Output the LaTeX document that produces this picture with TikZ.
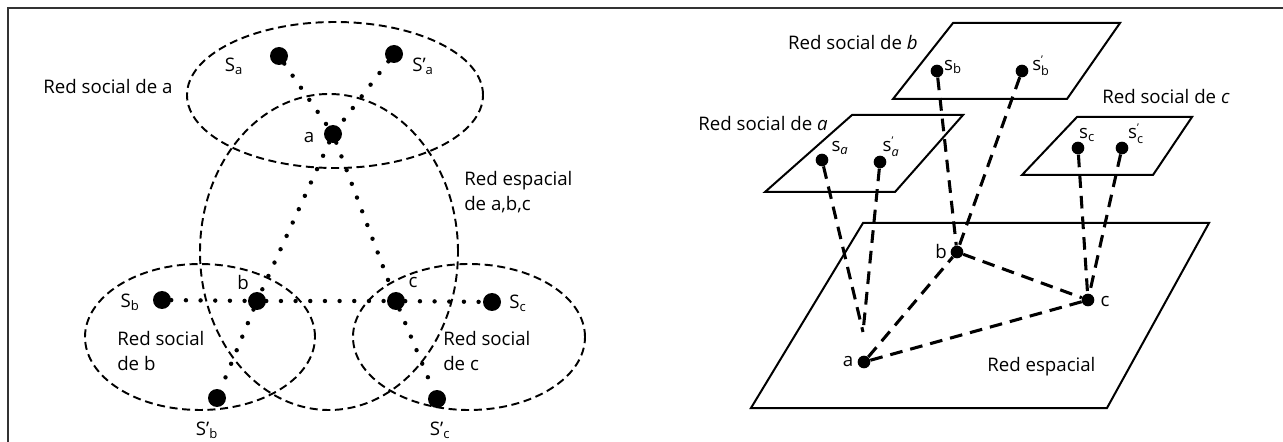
\documentclass[tikz,border=0pt]{standalone}
\usepackage{fontspec}
\setmainfont{Open Sans}
\newcommand\subpr[2]{#1$^{\hbox{\fontsize{8}{8}\selectfont ’}}_{\hbox{\fontsize{9.5}{9.5}\selectfont #2}}$}
\begin{document}
\begin{tikzpicture}[x=0.75pt,y=-0.75pt,
  bigdot/.style={circle,fill,inner sep=0pt,minimum size=13.5pt},
  smalldot/.style={circle,fill,inner sep=0pt,minimum size=9.5pt},
  dotline/.style={line width=3.3pt,line cap=round,dash pattern=on 0pt off 11pt},
  ringdash/.style={line width=1.45pt,dash pattern=on 6pt off 3.5pt},
  thickdash/.style={line width=2.3pt,dash pattern=on 9.5pt off 6pt},
  plane/.style={line width=1.5pt,line join=miter},
  lbl/.style={font=\fontsize{14}{18.5}\selectfont,inner sep=0pt}]
\useasboundingbox (0,0) rectangle (1283,442);
% frame
\draw[line width=1.3pt,black!80] (8,442) -- (8,8) -- (1283,8);

% ---------- left panel ----------
\draw[ringdash] (335,95) ellipse [x radius=111pt, y radius=54.75pt];
\draw[ringdash] (329,252) ellipse [x radius=96.75pt, y radius=118.5pt];
\draw[ringdash] (200,337) ellipse [x radius=86.25pt, y radius=54.75pt];
\draw[ringdash] (469,337) ellipse [x radius=87pt, y radius=54.75pt];

\node[bigdot] (LSa) at (279,56) {};
\node[bigdot] (LSpa) at (394,54) {};
\node[bigdot] (La) at (333,134) {};
\node[bigdot] (Lb) at (257,301) {};
\node[bigdot] (Lc) at (396,301) {};
\node[bigdot] (LSb) at (162,300) {};
\node[bigdot] (LSc) at (492,302) {};
\node[bigdot] (LSpb) at (217,398) {};
\node[bigdot] (LSpc) at (437,399) {};

\draw[dotline] (LSa) -- (La);
\draw[dotline] (LSpa) -- (La);
\draw[dotline] (La) -- (Lb);
\draw[dotline] (La) -- (Lc);
\draw[dotline] (LSb) -- (Lb);
\draw[dotline] (Lb) -- (Lc);
\draw[dotline] (Lc) -- (LSc);
\draw[dotline] (Lb) -- (LSpb);
\draw[dotline] (Lc) -- (LSpc);

\node[lbl] (tSa) at (234,66) {S\textsubscript{a}};
\node[lbl] (tSpa) at (423,66) {S’\textsubscript{a}};
\node[lbl] (ta) at (309,138) {a};
\node[lbl] (tb) at (243,283) {b};
\node[lbl] (tc) at (413,283) {c};
\node[lbl] (tSb) at (130,302) {S\textsubscript{b}};
\node[lbl] (tSc) at (518,303) {S\textsubscript{c}};
\node[lbl] (tSpb) at (207,430) {S’\textsubscript{b}};
\node[lbl] (tSpc) at (440,430) {S’\textsubscript{c}};
\node[lbl] (tRa) at (108,87) {Red social de a};
\node[lbl,align=left,anchor=west] (tRe) at (464,192) {Red espacial\\de a,b,c};
\node[lbl,align=left,anchor=west] (tRb) at (117,351) {Red social\\de b};
\node[lbl,align=left,anchor=west] (tRc) at (443,351) {Red social\\de c};

% ---------- right panel ----------
\draw[plane] (953,23) -- (1120,23) -- (1067,99) -- (893,99) -- cycle;
\draw[plane] (852,115) -- (963,115) -- (895,192) -- (765,192) -- cycle;
\draw[plane] (1077,117) -- (1192,117) -- (1153,175) -- (1022,175) -- cycle;
\draw[plane] (863,223) -- (1209,223) -- (1107,408) -- (751,408) -- cycle;

\node[smalldot] (Rsb) at (937,71) {};
\node[smalldot] (Rspb) at (1022,71) {};
\node[smalldot] (Rsa) at (822,160) {};
\node[smalldot] (Rspa) at (880,162) {};
\node[smalldot] (Rsc) at (1078,148) {};
\node[smalldot] (Rspc) at (1122,148) {};
\node[smalldot] (Rb) at (957,252) {};
\node[smalldot] (Rc) at (1088,300) {};
\node[smalldot] (Ra) at (864,362) {};
\coordinate (apin) at (863,332);

\draw[thickdash] (Rsa) -- (apin);
\draw[thickdash] (Rspa) -- (apin);
\draw[thickdash] (Rsb) -- (Rb);
\draw[thickdash] (Rspb) -- (Rb);
\draw[thickdash] (Rsc) -- (Rc);
\draw[thickdash] (Rspc) -- (Rc);
\draw[thickdash] (Ra) -- (Rb);
\draw[thickdash] (Rb) -- (Rc);
\draw[thickdash] (Ra) -- (Rc);

\node[lbl,anchor=east] (tRRb) at (918,43) {Red social de \textit{b}};
\node[lbl,anchor=west] (tRRc) at (1102,97) {Red social de \textit{c}};
\node[lbl,anchor=east] (tRRa) at (828,124) {Red social de \textit{a}};
\node[lbl,anchor=west] (tRRe) at (987,367) {Red espacial};
\node[lbl] (rsb) at (953,67) {s\textsubscript{b}};
\node[lbl] (rspb) at (1041,66) {\subpr{s}{b}};
\node[lbl] (rsa) at (840,148) {s\textsubscript{\textit{a}}};
\node[lbl] (rspa) at (891,147) {\subpr{s}{\textit{a}}};
\node[lbl] (rsc) at (1087,135) {s\textsubscript{c}};
\node[lbl] (rspc) at (1136,134) {\subpr{s}{c}};
\node[lbl] (trb) at (941,252) {b};
\node[lbl] (trc) at (1105,302) {c};
\node[lbl] (tra) at (848,362) {a};
\end{tikzpicture}
\end{document}
